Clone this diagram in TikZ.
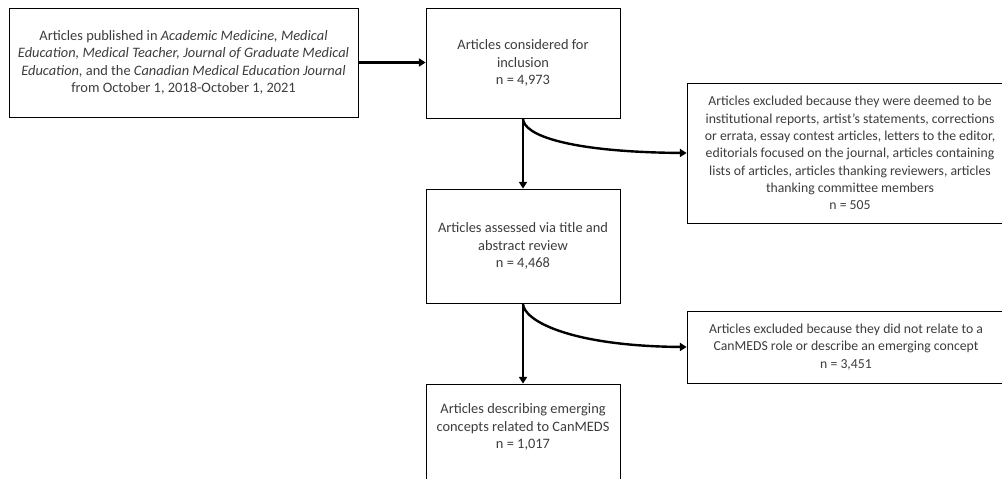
\documentclass[tikz,border=0pt]{standalone}
\usepackage{fontspec}
\setmainfont{Carlito}
\usetikzlibrary{arrows.meta}
\definecolor{txtgray}{RGB}{60,60,60}
\tikzset{
  box/.style={draw=black, line width=0.6pt, rectangle, inner sep=0pt,
    font=\fontsize{10.8}{13.2}\selectfont, text=txtgray, align=center},
  narrow/.style={font=\fontsize{10.3}{13}\selectfont},
  txt/.style={inner sep=0pt, font=\fontsize{10.8}{13.2}\selectfont, text=txtgray, align=center},
  arr/.style={line width=1.8pt, -{Triangle[length=5pt,width=6pt]}}
}
\begin{document}
\begin{tikzpicture}[x=0.75pt,y=-0.75pt]
\useasboundingbox (0,0) rectangle (1002,478);
\clip (0,0) rectangle (1002,478);
\node[box, minimum width=261.75pt, minimum height=81.75pt] (src) at (183.5,62.5)
 {Articles published in \emph{Academic Medicine, Medical}\\
  \emph{Education, Medical Teacher, Journal of Graduate Medical}\\
  \emph{Education,} and the \emph{Canadian Medical Education Journal}\\
  from October 1, 2018-October 1, 2021};
\node[box, minimum width=145.5pt, minimum height=82.5pt] (cons) at (523,63)
 {Articles considered for\\inclusion\\n = 4,973};
\node[box, narrow, minimum width=244.5pt, minimum height=105pt] (exA) at (850,153)
 {Articles excluded because they were deemed to be\\
  institutional reports, artist’s statements, corrections\\
  or errata, essay contest articles, letters to the editor,\\
  editorials focused on the journal, articles containing\\
  lists of articles, articles thanking reviewers, articles\\
  thanking committee members\\
  n = 505};
\node[box, minimum width=145.5pt, minimum height=85.5pt] (asse) at (523,246)
 {Articles assessed via title and\\abstract review\\n = 4,468};
\node[box, narrow, minimum width=238.5pt, minimum height=54pt] (exB) at (846,347)
 {Articles excluded because they did not relate to a\\
  CanMEDS role or describe an emerging concept\\
  n = 3,451};
\node[box, minimum width=145.5pt, minimum height=87pt] (fin) at (523,442) {};
\node[txt] (fintext) at (523,427)
 {Articles describing emerging\\concepts related to CanMEDS\\n = 1,017};
\draw[arr] (src.east) -- (src.east -| cons.west);
\draw[arr] (cons.south) -- (asse.north);
\draw[arr] (cons.south) .. controls +(0,17) and +(-117,-1) .. (exA.west);
\draw[arr] (asse.south) -- (fin.north);
\draw[arr] (asse.south) .. controls +(0,17) and +(-117,-1) .. (exB.west);
\end{tikzpicture}
\end{document}
